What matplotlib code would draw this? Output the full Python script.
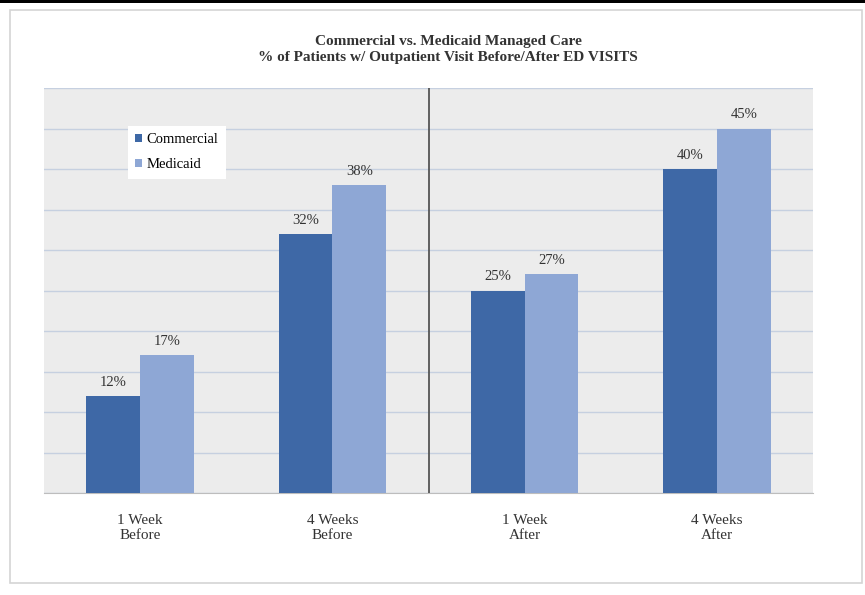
import matplotlib.pyplot as plt
from matplotlib.patches import Rectangle
import numpy as np

plt.rcParams['font.family'] = ['Liberation Serif', 'DejaVu Serif']

categories = ["1 Week\nBefore", "4 Weeks\nBefore", "1 Week\nAfter", "4 Weeks\nAfter"]
commercial = [12, 32, 25, 40]
medicaid = [17, 38, 27, 45]
series_names = ["Commercial", "Medicaid"]

fig = plt.figure(figsize=(8.65, 5.95), dpi=100)
fig.patch.set_facecolor("white")

# outer chart frame and the dark strip along the top
fig.patches.append(Rectangle((10 / 865, 12 / 595), 852 / 865, 573 / 595,
                             transform=fig.transFigure, fill=False,
                             edgecolor="#d4d4d4", linewidth=1.2))
fig.patches.append(Rectangle((0, 1 - 3 / 595), 1, 3 / 595,
                             transform=fig.transFigure, facecolor="black",
                             edgecolor="none"))

ax = fig.add_axes([44 / 865, 1 - 493 / 595, 769 / 865, 405 / 595])
ax.set_facecolor("#ececec")

x = np.arange(len(categories))
w = 0.28
b1 = ax.bar(x - w / 2, commercial, w, color="#3e68a6", label=series_names[0], zorder=3)
b2 = ax.bar(x + w / 2, medicaid, w, color="#8ea7d5", label=series_names[1], zorder=3)

for bars, vals in ((b1, commercial), (b2, medicaid)):
    for r, v in zip(bars, vals):
        ax.text(r.get_x() + r.get_width() / 2, v + 0.9, f"{v}%",
                ha="center", va="bottom", fontsize=10.5, color="#333333", zorder=4)

ax.set_xlim(-0.5, 3.5)
ax.set_ylim(0, 50)
ax.set_yticks(np.arange(0, 51, 5))
ax.yaxis.grid(True, color="#c6d0e0", linewidth=1.0, zorder=0)
ax.tick_params(axis="y", left=False, labelleft=False)
ax.set_xticks(x)
ax.set_xticklabels(categories, fontsize=11, color="#333333", linespacing=1.2)
ax.tick_params(axis="x", length=0, pad=15)
for s in ("top", "right", "left"):
    ax.spines[s].set_visible(False)
ax.spines["bottom"].set_color("#bdbdbd")

ax.axvline(1.5, color="#555555", linewidth=1.3, zorder=4)

leg = ax.legend(loc="upper left", bbox_to_anchor=(0.1, 0.925), fontsize=10.5,
                frameon=True, fancybox=False, edgecolor="none",
                facecolor="white", framealpha=1, handlelength=0.45,
                handleheight=0.45, handletextpad=0.3, borderpad=0.5,
                labelspacing=0.85)

fig.text(0.518, 1 - 42 / 595, "Commercial vs. Medicaid Managed Care",
         ha="center", va="center", fontsize=11, fontweight="bold", color="#333333")
fig.text(0.518, 1 - 58 / 595, "% of Patients w/ Outpatient Visit Before/After ED VISITS",
         ha="center", va="center", fontsize=11, fontweight="bold", color="#333333")

fig.savefig("out.png", dpi=100)
